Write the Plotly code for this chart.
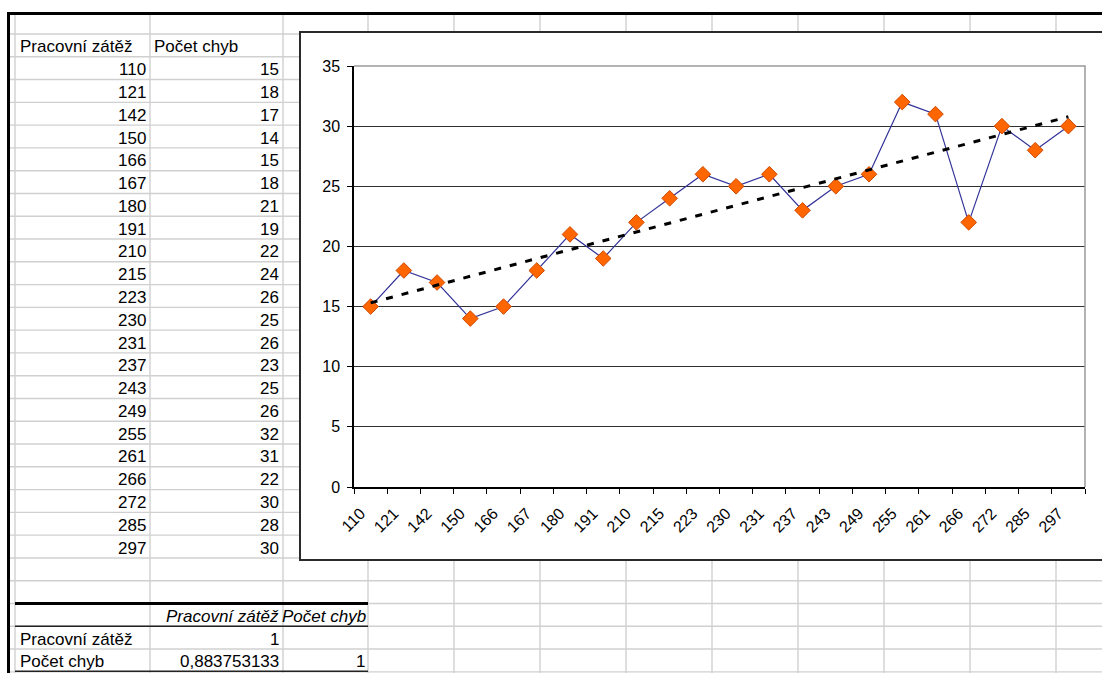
import numpy as np
import plotly.graph_objects as go

# Source data (worksheet columns)
workload = [110, 121, 142, 150, 166, 167, 180, 191, 210, 215, 223,
            230, 231, 237, 243, 249, 255, 261, 266, 272, 285, 297]
errors = [15, 18, 17, 14, 15, 18, 21, 19, 22, 24, 26,
          25, 26, 23, 25, 26, 32, 31, 22, 30, 28, 30]
header_workload = "Pracovní zátěž"
header_errors = "Počet chyb"
corr_coef = 0.883753133

W, H = 1102, 673
PL, PR, PT, PB = 354, 1085, 66, 487   # plot area edges in pixels

FONT = "Arial, Liberation Sans, sans-serif"


def px(x):
    return (x - PL) / (PR - PL)


def py(y):
    return (PB - y) / (PB - PT)


# Linear trend over the category index (1..n)
idx = np.arange(1, len(errors) + 1)
slope, intercept = np.polyfit(idx, errors, 1)
trend = slope * idx + intercept
cats = [str(v) for v in workload]

fig = go.Figure()
fig.add_trace(go.Scatter(
    x=cats, y=errors, mode="lines+markers",
    line=dict(color="#333399", width=1.2),
    marker=dict(symbol="diamond", size=12, color="#FF6600",
                line=dict(color="#D04800", width=1)),
    showlegend=False, cliponaxis=False,
))
fig.add_trace(go.Scatter(
    x=[cats[0], cats[-1]], y=[trend[0], trend[-1]], mode="lines",
    line=dict(color="black", width=3, dash="7px,9px"),
    showlegend=False,
))

# ---- worksheet grid ----
ROW0, ROWH = 34.0, 22.78
col_lines = [15, 150, 283, 368, 454, 540, 626, 712, 798, 884, 970, 1056]
shapes = []
GRID = dict(color="#d0d0d0", width=1.4)
for cx in col_lines:
    shapes.append(dict(type="line", xref="paper", yref="paper", layer="below",
                       x0=px(cx), x1=px(cx), y0=py(15), y1=py(H + 2), line=GRID))
for k in range(0, 29):
    ry = ROW0 + k * ROWH
    shapes.append(dict(type="line", xref="paper", yref="paper", layer="below",
                       x0=px(10), x1=px(W + 2), y0=py(ry), y1=py(ry), line=GRID))


def rowline(k):
    return ROW0 + k * ROWH


# correlation table borders
shapes.append(dict(type="line", xref="paper", yref="paper", layer="below",
                   x0=px(15), x1=px(368), y0=py(rowline(25)), y1=py(rowline(25)),
                   line=dict(color="black", width=3)))
shapes.append(dict(type="line", xref="paper", yref="paper", layer="below",
                   x0=px(15), x1=px(368), y0=py(rowline(26)), y1=py(rowline(26)),
                   line=dict(color="#222", width=1.5)))
shapes.append(dict(type="line", xref="paper", yref="paper", layer="below",
                   x0=px(15), x1=px(368), y0=py(rowline(28) - 0.5), y1=py(rowline(28) - 0.5),
                   line=dict(color="#222", width=1.5)))

# outer sheet border
shapes.append(dict(type="line", xref="paper", yref="paper", layer="below",
                   x0=px(7), x1=px(W + 2), y0=py(13.5), y1=py(13.5),
                   line=dict(color="black", width=3)))
shapes.append(dict(type="line", xref="paper", yref="paper", layer="below",
                   x0=px(8.5), x1=px(8.5), y0=py(12), y1=py(H + 2),
                   line=dict(color="black", width=3)))

# chart object frame
shapes.append(dict(type="rect", xref="paper", yref="paper", layer="below",
                   x0=px(300), x1=px(1115), y0=py(32), y1=py(560),
                   fillcolor="white", line=dict(color="#2a2a2a", width=2)))

# plot area border (top and right edges)
shapes.append(dict(type="path", xref="paper", yref="paper", layer="above",
                   path=f"M {px(PL)},{py(PT)} L {px(PR)},{py(PT)} L {px(PR)},{py(PB)}",
                   line=dict(color="#9a9a9a", width=1.5)))

# ---- worksheet text ----
annotations = []


def cell_text(text, x, k, anchor, italic=False):
    yc = ROW0 + (k + 0.5) * ROWH + 1.5
    annotations.append(dict(
        text=f"<i>{text}</i>" if italic else text,
        x=px(x), y=py(yc), xref="paper", yref="paper",
        xanchor=anchor, yanchor="middle", showarrow=False,
        font=dict(family=FONT, size=17, color="black")))


cell_text(header_workload, 18, 0, "left")
cell_text(header_errors, 152, 0, "left")
for i, (w, e) in enumerate(zip(workload, errors)):
    cell_text(str(w), 148, i + 1, "right")
    cell_text(str(e), 281, i + 1, "right")

cell_text(header_workload, 281, 25, "right", italic=True)
cell_text(header_errors, 368, 25, "right", italic=True)
cell_text(header_workload, 18, 26, "left")
cell_text("1", 281, 26, "right")
cell_text(header_errors, 18, 27, "left")
cell_text(f"{corr_coef:.9f}".replace(".", ","), 281, 27, "right")
cell_text("1", 367, 27, "right")

fig.update_layout(
    width=W, height=H,
    margin=dict(l=PL, r=W - PR, t=PT, b=H - PB, autoexpand=False),
    paper_bgcolor="white", plot_bgcolor="rgba(0,0,0,0)",
    shapes=shapes, annotations=annotations,
    font=dict(family=FONT, color="black"),
    xaxis=dict(type="category", range=[-0.5, len(cats) - 0.5],
               tickangle=-45, ticks="outside", ticklen=5,
               tickson="boundaries", tickcolor="black", tickwidth=1.3,
               showline=True, linecolor="black", linewidth=1.5,
               showgrid=False, zeroline=False, ticklabelstandoff=9,
               ticklabelshift=-10,
               tickfont=dict(family=FONT, size=16, color="black")),
    yaxis=dict(range=[0, 35], dtick=5, ticks="outside", ticklen=5,
               tickcolor="black", tickwidth=1.3,
               showline=True, linecolor="black", linewidth=1.5,
               showgrid=True, gridcolor="#303030", gridwidth=1.2,
               zeroline=False, ticklabelstandoff=4,
               tickfont=dict(family=FONT, size=16, color="black")),
)

fig.write_html("out.html")
